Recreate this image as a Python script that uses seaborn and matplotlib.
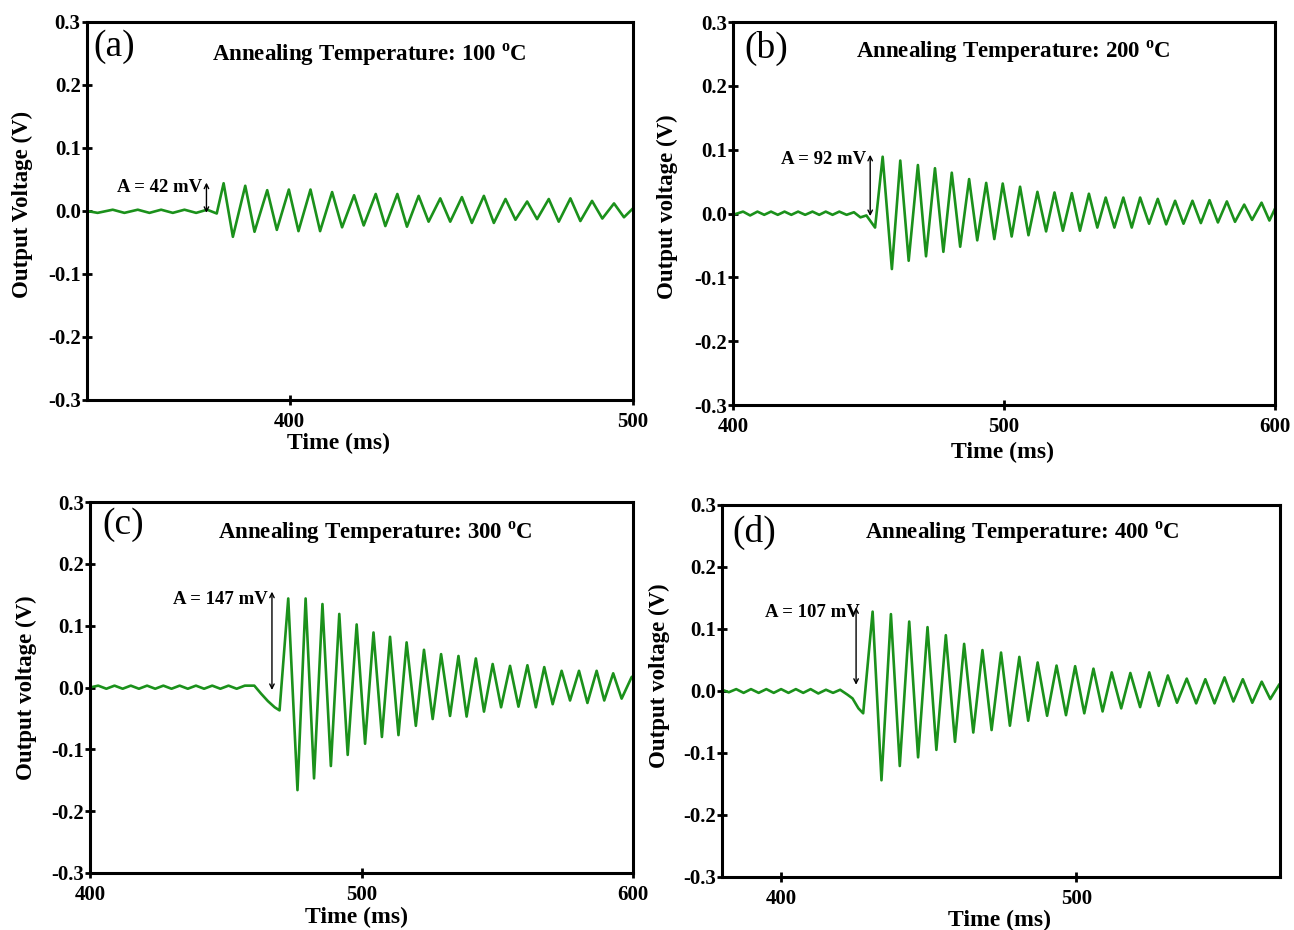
import matplotlib
matplotlib.use("Agg")
import matplotlib.pyplot as plt
import seaborn as sns

sns.set_theme(style="ticks")
plt.rcParams['font.family'] = ['Liberation Serif', 'DejaVu Serif']
plt.rcParams['mathtext.fontset'] = 'custom'
plt.rcParams['mathtext.rm'] = 'Liberation Serif'
plt.rcParams['mathtext.bf'] = 'Liberation Serif:bold'
plt.rcParams['axes.unicode_minus'] = False
plt.rcParams['text.color'] = 'black'
plt.rcParams['axes.labelcolor'] = 'black'
plt.rcParams['xtick.color'] = 'black'
plt.rcParams['ytick.color'] = 'black'

t_a = [341.0, 344.1, 348.5, 351.9, 355.8, 359.2, 362.6, 366.0, 369.4, 372.8, 376.0, 378.8,
       380.8, 383.5, 387.1, 389.8, 393.5, 396.3, 399.8, 402.6, 406.1, 408.9, 412.4, 415.3,
       418.8, 421.6, 425.1, 427.9, 431.4, 434.2, 437.6, 440.5, 443.9, 446.8, 450.2, 453.1,
       456.6, 459.5, 462.9, 465.8, 469.2, 472.1, 475.5, 478.4, 481.8, 484.7, 488.1, 491.1,
       494.5, 497.4, 500.0]
v_a = [0.000, -0.003, 0.002, -0.003, 0.002, -0.003, 0.002, -0.003, 0.002, -0.003, 0.002, -0.004,
       0.044, -0.041, 0.040, -0.033, 0.033, -0.030, 0.034, -0.032, 0.034, -0.032, 0.030, -0.026,
       0.025, -0.023, 0.027, -0.024, 0.027, -0.025, 0.024, -0.017, 0.020, -0.017, 0.022, -0.019,
       0.024, -0.019, 0.019, -0.014, 0.015, -0.013, 0.019, -0.017, 0.020, -0.016, 0.016, -0.012,
       0.012, -0.010, 0.004]

t_b = [400.0, 403.7, 406.3, 409.0, 411.5, 414.0, 416.5, 419.0, 421.5, 424.0, 426.6, 429.3,
       431.8, 434.2, 436.7, 439.2, 441.9, 444.6, 447.0, 449.2, 452.4,
       455.2, 458.6, 461.7, 464.8, 468.2, 471.2, 474.5, 477.6, 480.7, 483.8, 487.1, 490.1,
       493.4, 496.4, 499.5, 502.8, 505.9, 509.0, 512.3, 515.5, 518.6, 521.7, 525.0, 528.0,
       531.3, 534.4, 537.5, 540.7, 544.0, 547.1, 550.2, 553.5, 556.7, 559.8, 563.1, 566.2,
       569.5, 572.6, 575.8, 578.9, 582.2, 585.2, 588.6, 591.5, 595.0, 597.9, 600.0]
v_b = [-0.002, 0.003, -0.003, 0.003, -0.002, 0.003, -0.002, 0.003, -0.002, 0.003, -0.002, 0.003,
       -0.002, 0.003, -0.002, 0.003, -0.002, 0.002, -0.006, -0.003, -0.022,
       0.089, -0.087, 0.083, -0.074, 0.076, -0.067, 0.071, -0.060, 0.064, -0.052, 0.054, -0.042,
       0.048, -0.040, 0.047, -0.036, 0.042, -0.034, 0.034, -0.028, 0.033, -0.027, 0.032, -0.027,
       0.031, -0.022, 0.025, -0.022, 0.025, -0.022, 0.025, -0.016, 0.023, -0.017, 0.020, -0.016,
       0.020, -0.015, 0.021, -0.014, 0.019, -0.013, 0.014, -0.010, 0.017, -0.011, 0.008]

t_c = [400.0, 403.0, 406.0, 409.0, 412.0, 415.0, 418.0, 421.0, 424.0, 427.0, 430.0, 433.0,
       436.0, 439.0, 442.0, 445.0, 448.0, 451.0, 454.0, 457.0, 460.5, 463.0, 465.5, 468.0,
       469.8,
       473.0, 476.4, 479.4, 482.5, 485.6, 488.7, 491.8, 494.9, 498.2, 501.3, 504.4, 507.5,
       510.5, 513.6, 516.6, 520.0, 523.0, 526.2, 529.3, 532.6, 535.7, 538.7, 542.1, 545.1,
       548.3, 551.4, 554.7, 557.8, 561.1, 564.2, 567.3, 570.4, 573.7, 576.8, 580.1, 583.2,
       586.6, 589.4, 592.7, 595.8, 599.5, 600.0]
v_c = [0.000, 0.003, -0.002, 0.003, -0.002, 0.003, -0.002, 0.003, -0.002, 0.003, -0.002, 0.003,
       -0.002, 0.003, -0.002, 0.003, -0.002, 0.003, -0.002, 0.003, 0.003, -0.010, -0.022, -0.032,
       -0.037,
       0.144, -0.166, 0.144, -0.147, 0.135, -0.127, 0.119, -0.109, 0.102, -0.091, 0.089, -0.080,
       0.082, -0.077, 0.073, -0.062, 0.061, -0.051, 0.054, -0.046, 0.051, -0.047, 0.047, -0.039,
       0.038, -0.032, 0.035, -0.031, 0.036, -0.032, 0.033, -0.027, 0.027, -0.021, 0.027, -0.025,
       0.027, -0.021, 0.023, -0.018, 0.017, 0.018]

t_d = [380.0, 382.3, 384.8, 387.3, 389.8, 392.4, 395.0, 397.5, 400.0, 402.5, 405.0, 407.5,
       410.0, 412.6, 415.2, 417.6, 420.0, 422.5, 424.2, 426.2, 427.8,
       431.0, 434.0, 437.2, 440.2, 443.4, 446.4, 449.6, 452.6, 455.8, 458.9, 462.0, 465.1,
       468.2, 471.3, 474.5, 477.5, 480.7, 483.7, 486.9, 490.1, 493.3, 496.5, 499.6, 502.7,
       505.8, 508.9, 512.0, 515.2, 518.3, 521.6, 524.7, 527.9, 531.0, 534.1, 537.4, 540.6,
       543.7, 546.8, 550.2, 553.2, 556.4, 559.6, 562.8, 565.7, 568.8]
v_d = [0.002, -0.002, 0.003, -0.003, 0.003, -0.003, 0.003, -0.003, 0.003, -0.003, 0.003, -0.003,
       0.003, -0.004, 0.002, -0.003, 0.002, -0.006, -0.012, -0.028, -0.036,
       0.128, -0.144, 0.124, -0.121, 0.112, -0.107, 0.103, -0.095, 0.090, -0.082, 0.076, -0.067,
       0.066, -0.063, 0.062, -0.056, 0.055, -0.048, 0.046, -0.040, 0.041, -0.039, 0.040, -0.036,
       0.036, -0.033, 0.030, -0.028, 0.029, -0.026, 0.030, -0.024, 0.025, -0.019, 0.020, -0.020,
       0.019, -0.020, 0.022, -0.017, 0.019, -0.019, 0.015, -0.013, 0.011]

letters = ['(a)', '(b)', '(c)', '(d)']
temps = [100, 200, 300, 400]
amps = ['A = 42 mV', 'A = 92 mV', 'A = 147 mV', 'A = 107 mV']
ylabels = ['Output Voltage (V)', 'Output voltage (V)', 'Output voltage (V)', 'Output voltage (V)']
xlims = [(341, 500), (400, 600), (400, 600), (380, 569)]
xticks = [[400, 500], [400, 500, 600], [400, 500, 600], [400, 500]]
yticks = [-0.3, -0.2, -0.1, 0.0, 0.1, 0.2, 0.3]
ytick_labels = ['-0.3', '-0.2', '-0.1', '0.0', '0.1', '0.2', '0.3']

# arrow: time, bottom, top ; text anchor: time, value
arrows = [(375.8, -0.003, 0.045), (450.6, -0.004, 0.092), (467.0, -0.004, 0.155), (425.4, 0.010, 0.135)]
amp_pos = [(374.6, 0.037), (449.0, 0.084), (465.6, 0.142), (426.8, 0.127)]

positions = [[0.0672, 0.5699, 0.4219, 0.4065],
             [0.5665, 0.5645, 0.4189, 0.4118],
             [0.0696, 0.0613, 0.4196, 0.3989],
             [0.5580, 0.0570, 0.4312, 0.4000]]
letter_pos = [(0.012, 0.934), (0.020, 0.932), (0.022, 0.938), (0.018, 0.925)]
title_pos = [(0.518, 0.913), (0.517, 0.922), (0.525, 0.916), (0.538, 0.925)]
ylab_pos = [(-0.099, 0.516), (-0.101, 0.517), (-0.098, 0.499), (-0.093, 0.540)]
xlab_pos = [(0.46, -0.088), (0.498, -0.095), (0.49, -0.090), (0.498, -0.089)]

series = [(t_a, v_a), (t_b, v_b), (t_c, v_c), (t_d, v_d)]
green = '#1b911b'

fig = plt.figure(figsize=(12.94, 9.30), dpi=100)
for i in range(4):
    ax = fig.add_axes(positions[i])
    t, v = series[i]
    sns.lineplot(x=t, y=v, ax=ax, color=green, linewidth=1.9, estimator=None, sort=False,
                 solid_joinstyle='round', solid_capstyle='round')

    ax.set_xlim(*xlims[i])
    ax.set_ylim(-0.3, 0.3)
    ax.set_xticks(xticks[i])
    ax.set_xticklabels([str(x) for x in xticks[i]])
    ax.set_yticks(yticks)
    ax.set_yticklabels(ytick_labels)
    ax.tick_params(direction='inout', length=7, width=2, labelsize=15, colors='black')
    ax.tick_params(axis='y', pad=1)
    ax.tick_params(axis='x', pad=5)
    for lbl in ax.get_xticklabels() + ax.get_yticklabels():
        lbl.set_fontweight('bold')
    for sp in ax.spines.values():
        sp.set_visible(True)
        sp.set_linewidth(2.2)
        sp.set_color('black')

    ax.set_xlabel('Time (ms)', fontsize=17, fontweight='bold')
    ax.set_ylabel(ylabels[i], fontsize=16.5, fontweight='bold')
    ax.xaxis.set_label_coords(*xlab_pos[i])
    ax.yaxis.set_label_coords(*ylab_pos[i])

    ax.text(*letter_pos[i], letters[i], transform=ax.transAxes, fontsize=27,
            ha='left', va='center', color='black')
    ax.text(*title_pos[i], 'Annealing Temperature: %d $^{\\mathbf{o}}$C' % temps[i],
            transform=ax.transAxes, fontsize=16.5, fontweight='bold', ha='center', va='center',
            color='black')

    at, ab, atop = arrows[i]
    ax.annotate('', xy=(at, ab), xytext=(at, atop),
                arrowprops=dict(arrowstyle='<->', color='black', lw=1.0,
                                shrinkA=0, shrinkB=0, mutation_scale=8))
    ax.text(*amp_pos[i], amps[i], fontsize=13.5, fontweight='bold', ha='right', va='center',
            color='black')

fig.savefig('out.png', dpi=100, facecolor='white')
